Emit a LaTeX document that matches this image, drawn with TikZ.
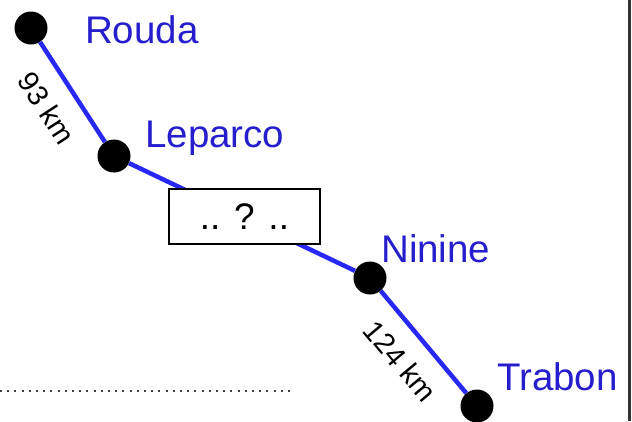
\documentclass[tikz,border=0pt]{standalone}
\usepackage{fontspec}
\setmainfont{Liberation Sans}
\usetikzlibrary{positioning}

\definecolor{roteiro}{RGB}{38,30,205}
\definecolor{estrada}{RGB}{40,40,245}

\tikzset{
  cidade/.style={circle, fill=black, inner sep=0pt, minimum size=33pt},
  nome/.style={text=roteiro, anchor=base west, inner sep=0pt, font=\fontsize{38.5}{40}\selectfont},
  distancia/.style={sloped, below=14pt, midway, font=\fontsize{29}{31}\selectfont},
  caminho/.style={estrada, line width=4.5pt}
}

\begin{document}
\begin{tikzpicture}[x=1pt,y=-1pt]
\useasboundingbox (0,0) rectangle (632,421);

% Borda da direita
\draw[line width=3pt, black!80] (629,0) -- (629,421);

% Linha pontilhada
\coordinate (pa) at (0,391);
\coordinate (pb) at (290,391);
\draw[black!75, line width=2pt, dash pattern=on 2pt off 5.2pt] (pa) -- (pb);

% Cidades
\node[cidade] (rouda) at (31,28) {};
\node[cidade] (leparco) at (114,156) {};
\node[cidade] (ninine) at (370,278) {};
\node[cidade] (trabon) at (477,406) {};

% Nomes
\node[nome] (nrouda) at (85,43) {Rouda};
\node[nome] (nleparco) at (145,147) {Leparco};
\node[nome] (nninine) at (381,262) {Ninine};
\node[nome] (ntrabon) at (497,390) {Trabon};

% Estradas
\draw[caminho] (rouda) -- node[distancia, text=black] {93 km} (leparco);
\draw[caminho] (leparco) -- (ninine);
\draw[caminho] (ninine) -- node[distancia, text=black] {124 km} (trabon);

% Caixa do meio
\node[draw, line width=1.8pt, fill=white, minimum width=151pt, minimum height=55pt,
      font=\fontsize{37}{39}\selectfont] (meio) at (244.5,216.5) {.. ? ..};

\end{tikzpicture}
\end{document}
